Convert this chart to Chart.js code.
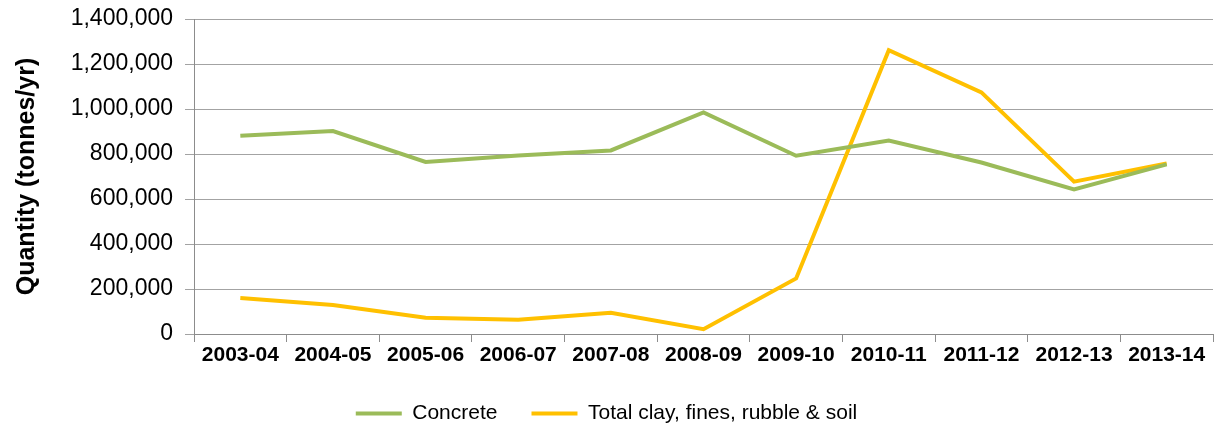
<!DOCTYPE html>
<html>
<head>
<meta charset="utf-8">
<script src="https://cdn.jsdelivr.net/npm/chart.js@4"></script>
<style>
  body { margin: 0; background: #fff; }
</style>
</head>
<body>
<canvas id="wasteChart" width="1216" height="426"></canvas>
<script>
const years = ["2003-04", "2004-05", "2005-06", "2006-07", "2007-08", "2008-09",
               "2009-10", "2010-11", "2011-12", "2012-13", "2013-14"];
const concrete = [881000, 902000, 765000, 793000, 816000, 985000, 792000, 860000, 762000, 643000, 754000];
const claySoil = [160000, 129000, 72000, 63000, 94000, 21000, 247000, 1261000, 1074000, 677000, 758000];
const yTicks = [0, 200000, 400000, 600000, 800000, 1000000, 1200000, 1400000];

const gridGrey = "#a3a3a3";
const axisGrey = "#8c8c8c";

new Chart(document.getElementById("wasteChart"), {
    type: "line",
    data: {
        labels: years,
        datasets: [
            {
                label: "Concrete",
                data: concrete,
                borderColor: "#9bbb59",
                backgroundColor: "#9bbb59",
                borderWidth: 4,
                pointRadius: 0,
                tension: 0
            },
            {
                label: "Total clay, fines, rubble & soil",
                data: claySoil,
                borderColor: "#ffc000",
                backgroundColor: "#ffc000",
                borderWidth: 4,
                pointRadius: 0,
                tension: 0
            }
        ]
    },
    options: {
        responsive: false,
        animation: false,
        devicePixelRatio: 1,
        // negative bottom padding pulls the legend row closer to the bottom edge
        layout: { padding: { left: 0, right: 3, top: 19, bottom: -8 } },
        scales: {
            x: {
                offset: true,
                grid: { offset: true, drawOnChartArea: false, tickLength: 8, color: axisGrey },
                border: { color: axisGrey },
                ticks: {
                    padding: 3,
                    color: "#000",
                    maxRotation: 0,
                    autoSkip: false,
                    font: { family: "Liberation Sans", size: 21, weight: "bold", lineHeight: 1 }
                }
            },
            y: {
                min: 0,
                max: yTicks[yTicks.length - 1],
                afterBuildTicks: (scale) => { scale.ticks = yTicks.map(v => ({ value: v })); },
                afterFit: (scale) => { scale.width = 194; },
                grid: { tickLength: 9, color: gridGrey },
                border: { color: axisGrey },
                ticks: {
                    padding: 12,
                    color: "#000",
                    font: { family: "Liberation Sans", size: 23, lineHeight: 0.6 },
                    callback: (v) => v.toLocaleString("en-US")
                },
                title: {
                    display: true,
                    text: "Quantity (tonnes/yr)",
                    color: "#000",
                    padding: { top: 12, bottom: 0 },
                    font: { family: "Liberation Sans", size: 25, weight: "bold" }
                }
            }
        },
        plugins: {
            legend: {
                position: "bottom",
                labels: {
                    usePointStyle: true,
                    pointStyle: "line",
                    pointStyleWidth: 46,
                    boxHeight: 4,
                    padding: 34,
                    color: "#000",
                    font: { family: "Liberation Sans", size: 21, lineHeight: 1 }
                }
            },
            tooltip: { enabled: false }
        }
    }
});
</script>
</body>
</html>
